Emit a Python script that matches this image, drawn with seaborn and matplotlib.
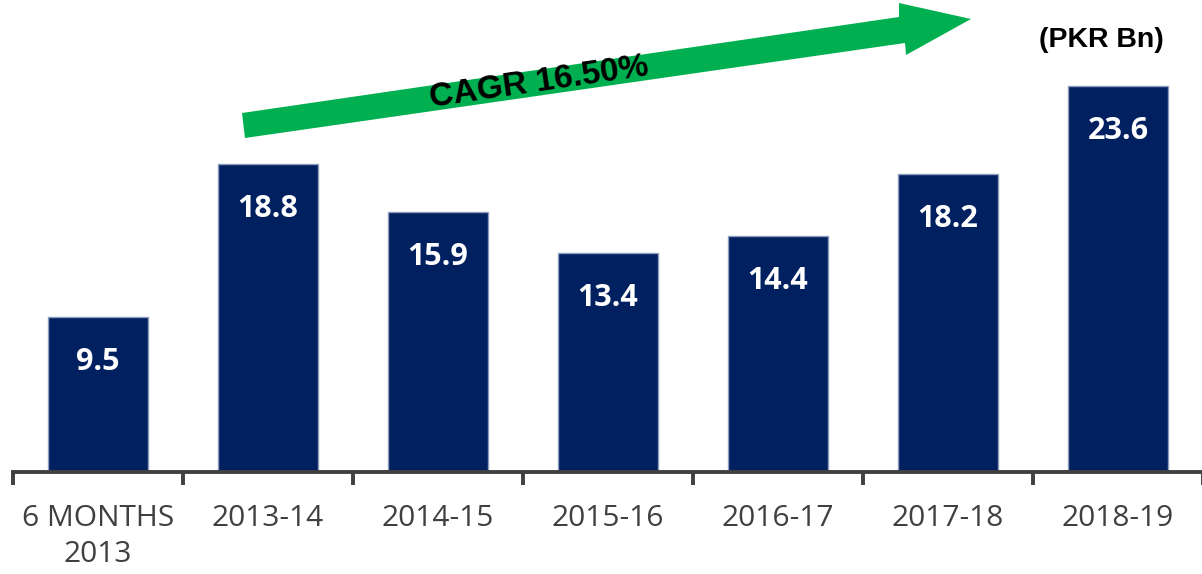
import matplotlib
matplotlib.use("Agg")
import matplotlib.pyplot as plt
import seaborn as sns
import pandas as pd
from matplotlib.patches import Polygon

categories = ["6 MONTHS\n2013", "2013-14", "2014-15", "2015-16", "2016-17", "2017-18", "2018-19"]
values = [9.5, 18.8, 15.9, 13.4, 14.4, 18.2, 23.6]
value_labels = ["9.5", "18.8", "15.9", "13.4", "14.4", "18.2", "23.6"]
cagr_text = "CAGR 16.50%"
unit_text = "(PKR Bn)"

sns.set_theme(style="white")
plt.rcParams["font.family"] = ["Open Sans", "DejaVu Sans"]

W, H = 1202, 574
fig = plt.figure(figsize=(W / 100, H / 100), dpi=100)
ax = fig.add_axes([13 / W, (H - 472) / H, 1190 / W, 472 / H])

df = pd.DataFrame({"cat": categories, "val": values})
sns.barplot(data=df, x="cat", y="val", ax=ax, color="#002060", width=0.59,
            edgecolor="#8C9DBE", linewidth=1.0, saturation=1)

ax.set_xlim(-0.5, len(categories) - 0.5)
ax.set_ylim(0, 28.85)
ax.set_xlabel("")
ax.set_ylabel("")
ax.set_yticks([])

for s in ["top", "right", "left"]:
    ax.spines[s].set_visible(False)
ax.spines["bottom"].set_color("#404040")
ax.spines["bottom"].set_linewidth(2.8)

ax.set_xticks(range(len(categories)))
ax.set_xticklabels(categories, fontsize=21.5, color="#404040", linespacing=1.3)
ax.tick_params(axis="x", which="major", bottom=True, length=0, pad=23)
ax.set_xticks([i - 0.5 for i in range(len(categories) + 1)], minor=True)
ax.tick_params(axis="x", which="minor", bottom=True, length=9, width=2.8,
               color="#404040", direction="out")

for i, (v, lab) in enumerate(zip(values, value_labels)):
    ax.text(i, v - 2.75, lab, ha="center", va="center", color="white",
            fontsize=22, fontweight="bold")

# Green CAGR arrow (figure pixel coordinates, top-origin)
pts_px = [(242, 113), (899, 17), (899, 3), (971, 19), (906, 55), (905, 43), (245, 138)]
pts = [(x / W, (H - y) / H) for x, y in pts_px]
fig.patches.append(Polygon(pts, closed=True, transform=fig.transFigure,
                           facecolor="#00B050", edgecolor="none", zorder=5))
fig.text(539 / W, (H - 83) / H, cagr_text, ha="center", va="center",
         rotation=8.3, fontsize=24, fontweight="bold", color="black",
         family=["Liberation Sans", "DejaVu Sans"], zorder=6)

fig.text(1101 / W, (H - 40) / H, unit_text, ha="center", va="center",
         fontsize=20.5, fontweight="bold", color="black",
         family=["Liberation Sans", "DejaVu Sans"])

fig.savefig("out.png", dpi=100)
